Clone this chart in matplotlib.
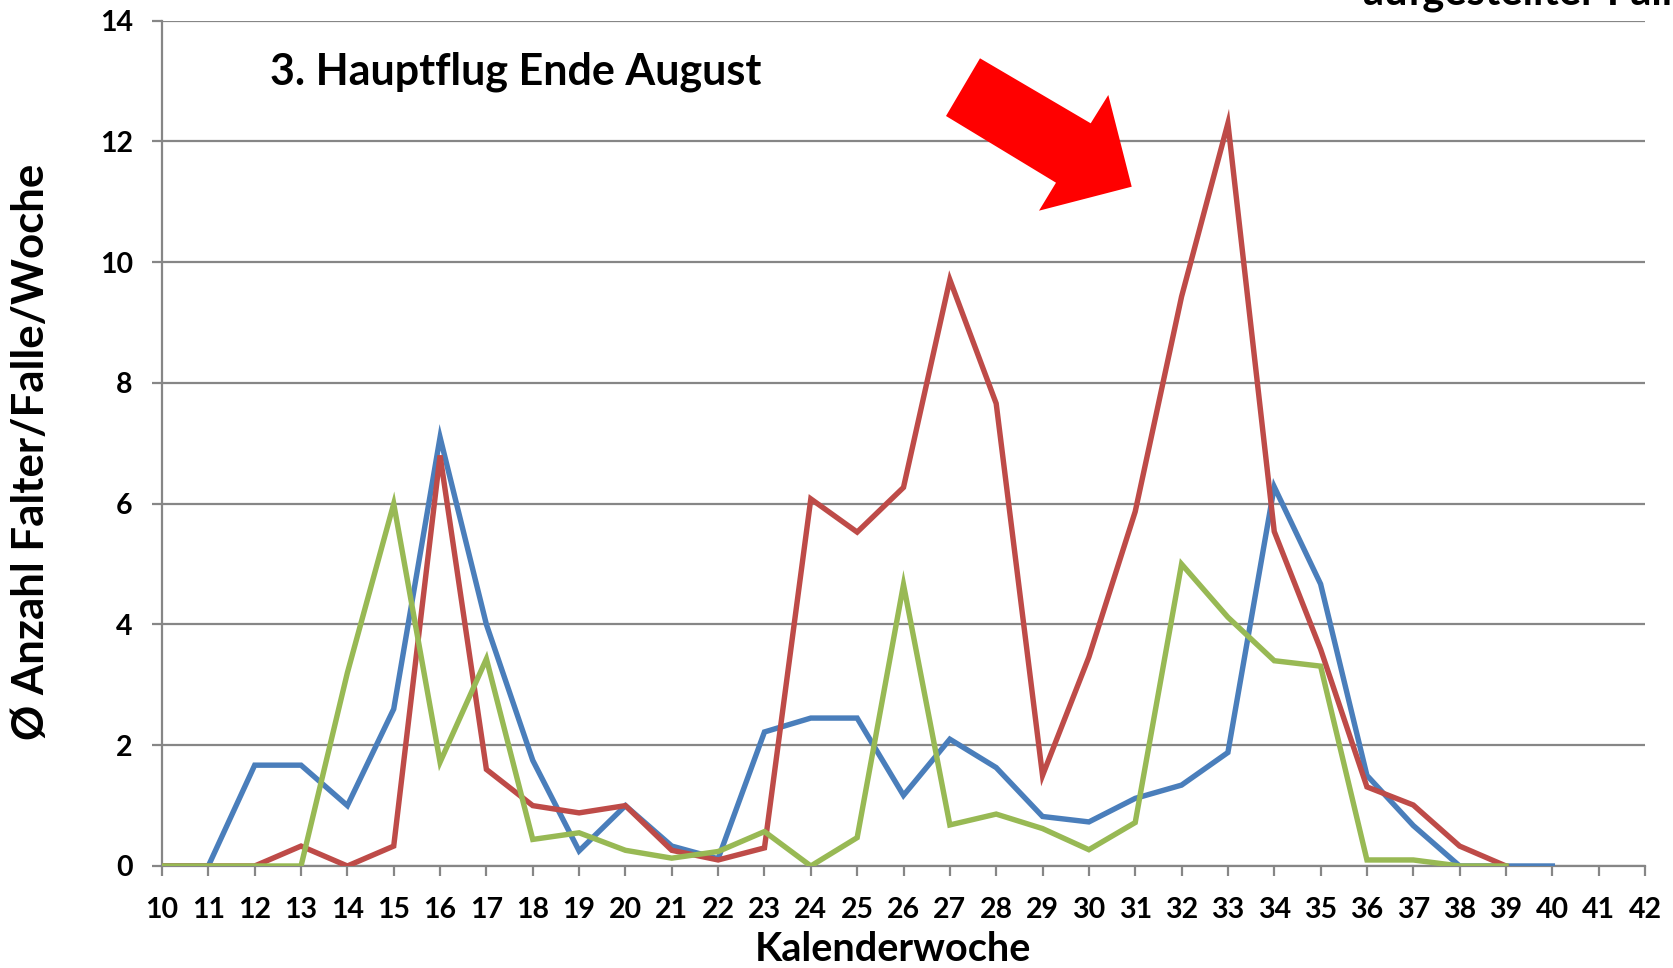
import matplotlib
matplotlib.use("Agg")
import matplotlib.pyplot as plt
from matplotlib.patches import Polygon

plt.rcParams['font.family'] = ['Lato', 'DejaVu Sans']
plt.rcParams['font.weight'] = 'bold'

# Kalenderwochen der drei Standorte
weeks_blue = list(range(10, 41))
blue = [0, 0, 1.67, 1.67, 1.0, 2.6, 7.1, 4.0, 1.75, 0.25, 1.0, 0.33, 0.12,
        2.22, 2.45, 2.45, 1.17, 2.1, 1.63, 0.82, 0.73, 1.12, 1.34, 1.88,
        6.28, 4.67, 1.5, 0.67, 0, 0, 0]

weeks_red = list(range(10, 40))
red = [0, 0, 0, 0.33, 0, 0.33, 6.8, 1.6, 1.0, 0.88, 1.0, 0.26, 0.1,
       0.3, 6.08, 5.53, 6.27, 9.71, 7.66, 1.5, 3.46, 5.87, 9.43, 12.3,
       5.54, 3.59, 1.31, 1.01, 0.33, 0]

weeks_green = list(range(10, 40))
green = [0, 0, 0, 0, 3.2, 6.0, 1.72, 3.43, 0.44, 0.55, 0.26, 0.13, 0.24,
         0.57, 0, 0.47, 4.66, 0.68, 0.86, 0.62, 0.27, 0.72, 5.0, 4.12,
         3.4, 3.31, 0.1, 0.1, 0, 0]

x_ticks = list(range(10, 43))
y_ticks = list(range(0, 15, 2))

W, H = 1674, 968
fig = plt.figure(figsize=(W / 100, H / 100), dpi=100)
ax = fig.add_axes([162 / W, 1 - 866 / H, (1645 - 162) / W, (866 - 20.7) / H])

grid_c = '#868686'
lw = 3.9
ax.plot(weeks_blue, blue, color='#4A7EBB', lw=lw, solid_joinstyle='miter', zorder=3)
ax.plot(weeks_red, red, color='#BE4B48', lw=lw, solid_joinstyle='miter', zorder=3)
ax.plot(weeks_green, green, color='#98B954', lw=lw, solid_joinstyle='miter', zorder=3)

ax.set_xlim(10, 42)
ax.set_ylim(0, 14)
ax.set_xticks(x_ticks)
ax.set_yticks(y_ticks)
ax.set_xticklabels([str(v) for v in x_ticks], fontsize=20.5, fontweight='bold')
ax.set_yticklabels([str(v) for v in y_ticks], fontsize=20.5, fontweight='bold')
ax.yaxis.grid(True, color=grid_c, lw=1.6, zorder=0)
ax.set_axisbelow(True)
for s in ('top', 'right'):
    ax.spines[s].set_visible(False)
for s in ('left', 'bottom'):
    ax.spines[s].set_color(grid_c)
    ax.spines[s].set_linewidth(1.6)
ax.tick_params(axis='both', direction='out', length=7, width=1.6, color=grid_c)
ax.tick_params(axis='y', pad=14)
ax.tick_params(axis='x', pad=15)

# Achsentitel
fig.text(892.5 / W, 1 - 961 / H, 'Kalenderwoche', fontsize=28.5,
         fontweight='bold', ha='center', va='baseline')
fig.text(44 / W, 1 - 452 / H, 'Ø Anzahl Falter/Falle/Woche', fontsize=31.5,
         fontweight='bold', rotation=90, rotation_mode='anchor',
         ha='center', va='baseline')

fig.text(270 / W, 1 - 84 / H, '3. Hauptflug Ende August', fontsize=31,
         fontweight='bold', ha='left', va='baseline')
fig.text(1363 / W, 1 - 5 / H, 'aufgestellter Falle', fontsize=30,
         fontweight='bold', ha='left', va='baseline')

arrow_px = [(980, 58.3), (1090.7, 123.3), (1108.3, 95), (1131.7, 186.7),
            (1039, 210.7), (1056, 182.7), (946, 116)]
fig.patches.append(Polygon([(x / W, 1 - y / H) for x, y in arrow_px], closed=True,
                           facecolor='#FF0000', edgecolor='none',
                           transform=fig.transFigure, figure=fig, zorder=5))

fig.savefig('out.png', dpi=100, facecolor='white')
